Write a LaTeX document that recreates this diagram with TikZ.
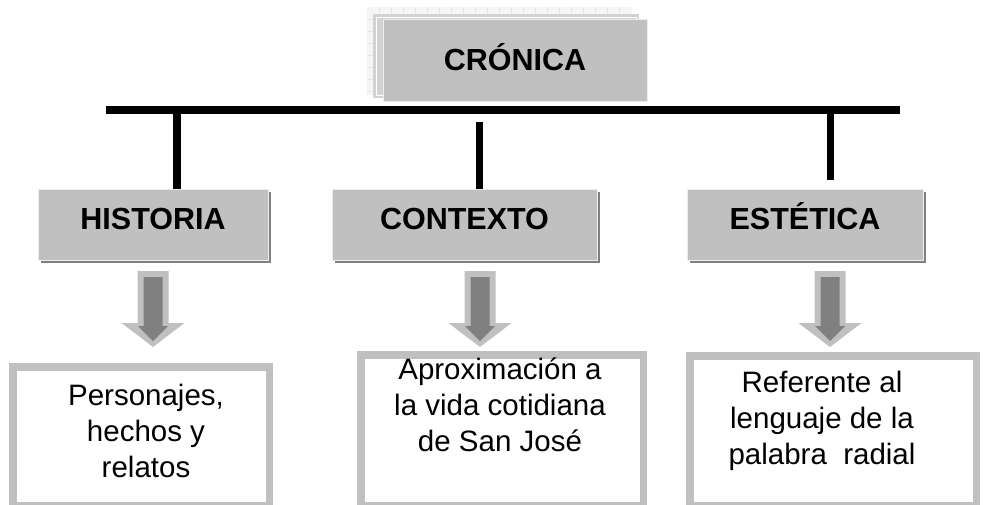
\documentclass[tikz,border=0pt]{standalone}
\usepackage{fontspec}
\setmainfont{Liberation Sans}
\usetikzlibrary{shadows}
\definecolor{boxgray}{HTML}{C0C0C0}
\definecolor{shadegray}{HTML}{808080}

\begin{document}
\begin{tikzpicture}[x=1pt, y=-1pt,
    title/.style={rectangle, fill=boxgray, draw=gray!15, line width=0.8pt, inner sep=0pt,
      font=\bfseries\fontsize{30.5}{36}\selectfont},
    head/.style={title, minimum height=71, text height=22pt, text depth=12pt,
      drop shadow={shadow xshift=3pt, shadow yshift=-3pt, fill=shadegray, opacity=1}},
    bar/.style={line width=8pt},
    lowbox/.style={rectangle, draw=boxgray, line width=7.5pt, fill=white, inner sep=0pt},
    lowtext/.style={anchor=north, align=center, inner sep=0pt,
      font=\fontsize{29.5}{36}\selectfont}]
         \clip (0,0) rectangle (983,504);
         % frames behind the title
         \fill[gray!8] (367,7) rectangle (632,95);
         \foreach \x in {379,391,...,627} \draw[gray!22, line width=0.4pt] (\x,7) -- (\x,95);
         \foreach \y in {19,31,...,91} \draw[gray!22, line width=0.4pt] (367,\y) -- (632,\y);
         \fill[gray!35] (373,14) rectangle (639,98);
         \draw[white, line width=1pt] (376,17) rectangle (636,95);
         \node[title, minimum width=264, minimum height=82, text height=22pt, text depth=2pt] (cron) at (515,60) {CRÓNICA};
         \node[head, minimum width=230] (hist) at (153,224.5) {HISTORIA};
         \node[head, minimum width=265] (cont) at (464.5,224.5) {CONTEXTO};
         \node[head, minimum width=236] (este) at (805,224.5) {ESTÉTICA};
         \coordinate (bl) at (106,110);
         \coordinate (br) at (900,110);
         \coordinate (s1) at (177,110);
         \coordinate (s2) at (479,122);
         \coordinate (s3) at (830,110);
         \coordinate (e3) at (830,180);
         \draw[bar] (bl) -- (br);
         \draw[line width=7.5pt] (s1) -- (s1 |- hist.north);
         \draw[line width=7pt] (s2) -- (s2 |- cont.north);
         \draw[line width=7pt] (s3) -- (e3);
         % block arrows
         \foreach \x in {153,480,830} {
           \fill[boxgray] (\x-15.5,271) -- (\x+15.5,271) -- (\x+15.5,323) -- (\x+31.5,323)
             -- (\x,347) -- (\x-31.5,323) -- (\x-15.5,323) -- cycle;
           \fill[shadegray] (\x-9.5,277) -- (\x+9.5,277) -- (\x+9.5,326) -- (\x+15,326)
             -- (\x,341) -- (\x-15,326) -- (\x-9.5,326) -- cycle;
         }
         \node[lowbox, minimum width=256.5, minimum height=139.25] (persbox) at (141,436.4) {};
         \node[lowbox, minimum width=282.5, minimum height=151.25] (aprobox) at (502,430.4) {};
         \node[lowbox, minimum width=286.5, minimum height=150.25] (refebox) at (833,430.9) {};
         \node[lowtext] (pers) at (146,384) {Personajes,\\hechos y\\relatos};
         \node[lowtext] (apro) at (500,358) {Aproximación a\\la vida cotidiana\\de San José};
         \node[lowtext] (refe) at (822,371) {Referente al\\lenguaje de la\\palabra\ \ radial};
 \end{tikzpicture}
\end{document}
